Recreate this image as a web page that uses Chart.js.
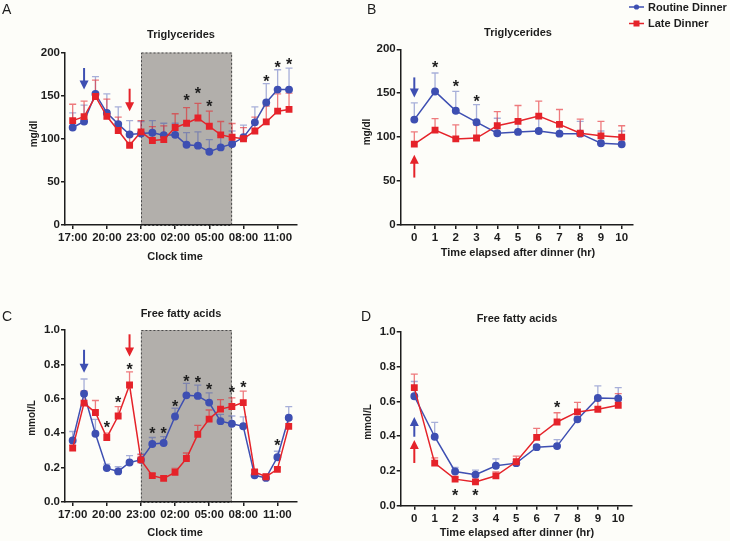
<!DOCTYPE html>
<html>
<head>
<meta charset="utf-8">
<script src="https://cdn.jsdelivr.net/npm/chart.js@4.4.0/dist/chart.umd.min.js"></script>
<style>
  body { margin: 0; background: #fdfdf9; width: 730px; height: 541px; overflow: hidden; position: relative; }
  canvas { position: absolute; }
</style>
</head>
<body>
<canvas id="chartA" width="365" height="270" style="left:0px;top:0px"></canvas>
<canvas id="chartB" width="390" height="270" style="left:340px;top:0px"></canvas>
<canvas id="chartC" width="365" height="271" style="left:0px;top:270px"></canvas>
<canvas id="chartD" width="390" height="271" style="left:340px;top:270px"></canvas>
<script>
// ---- data ----
const clockHours = ['17:00','18:00','19:00','20:00','21:00','22:00','23:00','00:00','01:00','02:00',
                    '03:00','04:00','05:00','06:00','07:00','08:00','09:00','10:00','11:00','12:00'];
const clockTickLabels = ['17:00','20:00','23:00','02:00','05:00','08:00','11:00'];
const elapsedHours = [0,1,2,3,4,5,6,7,8,9,10];

// triglycerides (mg/dl), clock time
const tgRoutine    = [113,120,152,130,117,105,106,107,104,104.5,93,92,85,90,94,101.7,119,142,157,157];
const tgRoutineSem = [17,19,20,22,20,16,14,14,14,13.5,14,16,14,14,15,14,18,22,23,25];
const tgLate       = [121,125.7,149,126,109.5,92.5,108,98,99,113,118,124,114.5,104.5,101.7,100,109,119.5,132,134];
const tgLateSem    = [19,18,19,20,15.5,14,13,16,16,16,18,17,17.5,15.5,16,13,16,18.5,20,19];

// triglycerides (mg/dl), time after dinner
const tgRoutineElapsed    = [120,152,130,117,104.5,106,107,104,104,93,92];
const tgRoutineElapsedSem = [19,21,22,20,17,12,15,13,14,14,15];
const tgLateElapsed       = [92,108,98,99,113,118,124,114.5,104.5,101.5,100];
const tgLateElapsedSem    = [14,13,16,15,16,18,17,17,16,16.5,13];

// free fatty acids (mmol/L), clock time
const ffaRoutine    = [0.358,0.63,0.397,0.197,0.178,0.23,0.245,0.337,0.343,0.497,0.62,0.617,0.578,0.47,0.455,0.44,0.155,0.14,0.26,0.49];
const ffaRoutineSem = [0.052,0.085,0.083,0.023,0.027,0.04,0.035,0.038,0.037,0.048,0.07,0.063,0.057,0.04,0.045,0.055,0.01,0.02,0.035,0.065];
const ffaLate       = [0.313,0.575,0.52,0.375,0.5,0.68,0.245,0.153,0.137,0.172,0.253,0.393,0.482,0.54,0.555,0.578,0.175,0.147,0.19,0.44];
const ffaLateSem    = [0.017,0.07,0.07,0.025,0.055,0.077,0.03,0.012,0.013,0.023,0.032,0.052,0.053,0.055,0.05,0.067,0.01,0.013,0.01,0.04];

// free fatty acids (mmol/L), time after dinner
const ffaRoutineElapsed    = [0.63,0.397,0.197,0.178,0.23,0.245,0.337,0.343,0.497,0.62,0.617];
const ffaRoutineElapsedSem = [0.085,0.083,0.023,0.027,0.04,0.02,0.015,0.037,0.015,0.07,0.063];
const ffaLateElapsed       = [0.68,0.245,0.153,0.137,0.172,0.253,0.393,0.482,0.54,0.555,0.578];
const ffaLateElapsedSem    = [0.077,0.03,0.012,0.013,0.023,0.032,0.052,0.053,0.055,0.05,0.067];

// significance marks [x, y] and dinner arrows [x, from, to, series]
const tgStars       = [[10,148],[11,156],[12,142],[17,171],[18,187],[19,190]];
const tgElapsedStars = [[1,183],[2,162],[3,144]];
const ffaStars      = [[3,0.455],[4,0.598],[5,0.79],[7,0.416],[8,0.416],[9,0.574],[10,0.723],[11,0.716],[12,0.677],[14,0.656],[15,0.687],[18,0.346]];
const ffaElapsedStars = [[2,0.08],[3,0.08],[7,0.583]];
const tgArrows       = [[1,182,157,'routine'],[5,158,132,'late']];
const tgElapsedArrows = [[0,168,145,'routine'],[0,54,80,'late']];
const ffaArrows      = [[1,0.885,0.752,'routine'],[5,0.975,0.846,'late']];
const ffaElapsedArrows = [[0,0.397,0.51,'routine'],[0,0.246,0.378,'late']];
const nightStart = 6, nightEnd = 14;   // 23:00 to 07:00

// ---- style ----
const FONT = '"Liberation Sans", Arial, Helvetica, sans-serif';
const INK = '#1d1d1d';
const BLUE = '#3e4fb2';
const RED = '#e5232a';
const BLUE_ERR = 'rgba(62,79,178,0.45)';
const RED_ERR = 'rgba(229,35,42,0.6)';
const colorOf = { routine: BLUE, late: RED };

const decor = {};

const decorPlugin = {
  id: 'decor',
  beforeDraw(chart) {
    const d = decor[chart.canvas.id];
    if (!d.shade) return;
    const {ctx, scales: {x, y}} = chart;
    const x0 = x.getPixelForValue(nightStart), x1 = x.getPixelForValue(nightEnd);
    const y0 = y.getPixelForValue(y.max), y1 = y.getPixelForValue(0);
    ctx.save();
    ctx.fillStyle = '#b2afab';
    ctx.fillRect(x0, y0, x1 - x0, y1 - y0);
    ctx.strokeStyle = '#4a4a4a';
    ctx.lineWidth = 1;
    ctx.setLineDash([2, 2]);
    ctx.strokeRect(x0 + 0.5, y0 + 0.5, x1 - x0 - 1, y1 - y0);
    ctx.restore();
  },
  beforeDatasetsDraw(chart) {
    const {ctx, scales: {y}} = chart;
    chart.data.datasets.forEach((ds, i) => {
      const meta = chart.getDatasetMeta(i);
      ctx.save();
      ctx.strokeStyle = ds.errColor;
      ctx.lineWidth = 1.3;
      meta.data.forEach((pt, j) => {
        const top = y.getPixelForValue(ds.data[j].y + ds.sem[j]);
        ctx.beginPath();
        ctx.moveTo(pt.x, pt.y);
        ctx.lineTo(pt.x, top);
        ctx.moveTo(pt.x - 3.5, top);
        ctx.lineTo(pt.x + 3.5, top);
        ctx.stroke();
      });
      ctx.restore();
    });
  },
  afterDraw(chart) {
    const d = decor[chart.canvas.id];
    const {ctx, scales: {x, y}} = chart;
    ctx.save();
    // asterisks
    ctx.fillStyle = INK;
    ctx.font = 'bold 16px ' + FONT;
    ctx.textAlign = 'center';
    ctx.textBaseline = 'alphabetic';
    d.stars.forEach(([sx, sy]) => {
      ctx.fillText('*', x.getPixelForValue(sx), y.getPixelForValue(sy) + 9);
    });
    // arrows
    d.arrows.forEach(([ax, from, to, who]) => {
      const px = x.getPixelForValue(ax);
      const pf = y.getPixelForValue(from), pt = y.getPixelForValue(to);
      const dir = pt > pf ? 1 : -1;
      ctx.strokeStyle = colorOf[who];
      ctx.fillStyle = colorOf[who];
      ctx.lineWidth = 2;
      ctx.beginPath();
      ctx.moveTo(px, pf);
      ctx.lineTo(px, pt - dir * 7);
      ctx.stroke();
      ctx.beginPath();
      ctx.moveTo(px, pt);
      ctx.lineTo(px - 4.5, pt - dir * 9);
      ctx.lineTo(px + 4.5, pt - dir * 9);
      ctx.closePath();
      ctx.fill();
    });
    // texts (page coordinates)
    ctx.fillStyle = INK;
    d.texts.forEach(t => {
      ctx.save();
      ctx.font = t.font;
      ctx.textAlign = t.align || 'center';
      ctx.textBaseline = 'middle';
      ctx.translate(t.x - d.ox, t.y - d.oy);
      if (t.rot) ctx.rotate(-Math.PI / 2);
      ctx.fillText(t.text, 0, 0);
      ctx.restore();
    });
    // legend
    if (d.legend) {
      d.legend.forEach((item, k) => {
        const ly = 7 + k * 16.5 - d.oy;
        const lx = 629 - d.ox;
        ctx.strokeStyle = colorOf[item.who];
        ctx.fillStyle = colorOf[item.who];
        ctx.lineWidth = 1.5;
        ctx.beginPath();
        ctx.moveTo(lx, ly);
        ctx.lineTo(lx + 15, ly);
        ctx.stroke();
        if (item.who === 'routine') {
          ctx.beginPath();
          ctx.arc(lx + 7.5, ly, 2.6, 0, Math.PI * 2);
          ctx.fill();
        } else {
          ctx.fillRect(lx + 4.5, ly - 3, 6, 6);
        }
        ctx.fillStyle = INK;
        ctx.font = 'bold 11px ' + FONT;
        ctx.textAlign = 'left';
        ctx.textBaseline = 'middle';
        ctx.fillText(item.text, lx + 19, ly + 0.5);
      });
    }
    ctx.restore();
  }
};

function makeChart(id, c) {
  decor[id] = c.decor;
  const tickFont = { family: FONT, size: 11.5, weight: 'bold' };
  return new Chart(document.getElementById(id), {
    type: 'line',
    data: {
      datasets: [
        {
          label: 'Routine Dinner',
          data: c.xs.map((v, i) => ({ x: v, y: c.routine[i] })),
          sem: c.routineSem, errColor: BLUE_ERR,
          borderColor: BLUE, backgroundColor: BLUE, borderWidth: 1.5,
          pointStyle: 'circle', pointRadius: 3.2, order: 1
        },
        {
          label: 'Late Dinner',
          data: c.xs.map((v, i) => ({ x: v, y: c.late[i] })),
          sem: c.lateSem, errColor: RED_ERR,
          borderColor: RED, backgroundColor: RED, borderWidth: 1.5,
          pointStyle: 'rect', pointRadius: 3.8, order: 0
        }
      ]
    },
    options: {
      responsive: false,
      animation: false,
      layout: { padding: c.pad },
      plugins: { legend: { display: false }, tooltip: { enabled: false } },
      scales: {
        x: {
          type: 'linear', min: c.xMin, max: c.xMax,
          afterBuildTicks: s => { s.ticks = c.xTicks.map(v => ({ value: v })); },
          afterFit: s => { s.height = c.xHeight; },
          ticks: { callback: c.xLabel, font: tickFont, color: INK, padding: 2, autoSkip: false, maxRotation: 0 },
          grid: { display: true, drawOnChartArea: false, drawTicks: true, tickLength: 4, color: INK, lineWidth: 1.5 },
          border: { color: INK, width: 1.5 }
        },
        y: {
          min: 0, max: c.yMax,
          afterBuildTicks: s => { s.ticks = c.yTicks.map(v => ({ value: v })); },
          afterFit: s => { s.width = c.yWidth; },
          ticks: { callback: c.yLabel, font: tickFont, color: INK, padding: 1 },
          grid: { display: true, drawOnChartArea: false, drawTicks: true, tickLength: 4, color: INK, lineWidth: 1.5 },
          border: { color: INK, width: 1.5 }
        }
      }
    },
    plugins: [decorPlugin]
  });
}

const titleFont = 'bold 11px ' + FONT;
const axisFont = 'bold 11px ' + FONT;
const yTitleFont = 'bold 10px ' + FONT;
const letterFont = '14px ' + FONT;
const clockLabel = v => clockTickLabels[v / 3];
const tgTicks = [0, 50, 100, 150, 200];
const ffaTicks = [0, 0.2, 0.4, 0.6, 0.8, 1.0];

makeChart('chartA', {
  xs: clockHours.map((h, i) => i), routine: tgRoutine, routineSem: tgRoutineSem, late: tgLate, lateSem: tgLateSem,
  xMin: -0.675, xMax: 19.7, xTicks: [0, 3, 6, 9, 12, 15, 18], xLabel: clockLabel,
  yMax: 200, yTicks: tgTicks, yLabel: v => v,
  pad: { left: 0, right: 68, top: 52.5, bottom: 0 }, xHeight: 45, yWidth: 65,
  decor: {
    ox: 0, oy: 0, shade: true, stars: tgStars, arrows: tgArrows,
    texts: [
      { text: 'A', x: 2, y: 10, font: letterFont, align: 'left' },
      { text: 'Triglycerides', x: 181, y: 35, font: titleFont },
      { text: 'Clock time', x: 175, y: 257, font: axisFont },
      { text: 'mg/dl', x: 34, y: 134, font: yTitleFont, rot: true }
    ]
  }
});

makeChart('chartB', {
  xs: elapsedHours, routine: tgRoutineElapsed, routineSem: tgRoutineElapsedSem, late: tgLateElapsed, lateSem: tgLateElapsedSem,
  xMin: -0.656, xMax: 10.545, xTicks: elapsedHours, xLabel: v => v,
  yMax: 200, yTicks: tgTicks, yLabel: v => v,
  pad: { left: 0, right: 97, top: 49.3, bottom: 0 }, xHeight: 45, yWidth: 60.7,
  decor: {
    ox: 340, oy: 0, shade: false, stars: tgElapsedStars, arrows: tgElapsedArrows,
    texts: [
      { text: 'B', x: 367, y: 10, font: letterFont, align: 'left' },
      { text: 'Triglycerides', x: 518, y: 32.5, font: titleFont },
      { text: 'Time elapsed after dinner (hr)', x: 518, y: 253, font: axisFont },
      { text: 'mg/dl', x: 367, y: 132, font: yTitleFont, rot: true }
    ],
    legend: [{ who: 'routine', text: 'Routine Dinner' }, { who: 'late', text: 'Late Dinner' }]
  }
});

makeChart('chartC', {
  xs: clockHours.map((h, i) => i), routine: ffaRoutine, routineSem: ffaRoutineSem, late: ffaLate, lateSem: ffaLateSem,
  xMin: -0.675, xMax: 19.7, xTicks: [0, 3, 6, 9, 12, 15, 18], xLabel: clockLabel,
  yMax: 1.0, yTicks: ffaTicks, yLabel: v => v.toFixed(1),
  pad: { left: 0, right: 68.3, top: 60, bottom: 0 }, xHeight: 39, yWidth: 65,
  decor: {
    ox: 0, oy: 270, shade: true, stars: ffaStars, arrows: ffaArrows,
    texts: [
      { text: 'C', x: 2, y: 317, font: letterFont, align: 'left' },
      { text: 'Free fatty acids', x: 181, y: 313.5, font: titleFont },
      { text: 'Clock time', x: 175, y: 533, font: axisFont },
      { text: 'mmol/L', x: 32, y: 418, font: yTitleFont, rot: true }
    ]
  }
});

makeChart('chartD', {
  xs: elapsedHours, routine: ffaRoutineElapsed, routineSem: ffaRoutineElapsedSem, late: ffaLateElapsed, lateSem: ffaLateElapsedSem,
  xMin: -0.667, xMax: 10.66, xTicks: elapsedHours, xLabel: v => v,
  yMax: 1.0, yTicks: ffaTicks, yLabel: v => v.toFixed(1),
  pad: { left: 0, right: 98.3, top: 62, bottom: 0 }, xHeight: 35.3, yWidth: 60.7,
  decor: {
    ox: 340, oy: 270, shade: false, stars: ffaElapsedStars, arrows: ffaElapsedArrows,
    texts: [
      { text: 'D', x: 361, y: 317, font: letterFont, align: 'left' },
      { text: 'Free fatty acids', x: 517, y: 318.5, font: titleFont },
      { text: 'Time elapsed after dinner (hr)', x: 517, y: 533, font: axisFont },
      { text: 'mmol/L', x: 368, y: 422, font: yTitleFont, rot: true }
    ]
  }
});
</script>
</body>
</html>
